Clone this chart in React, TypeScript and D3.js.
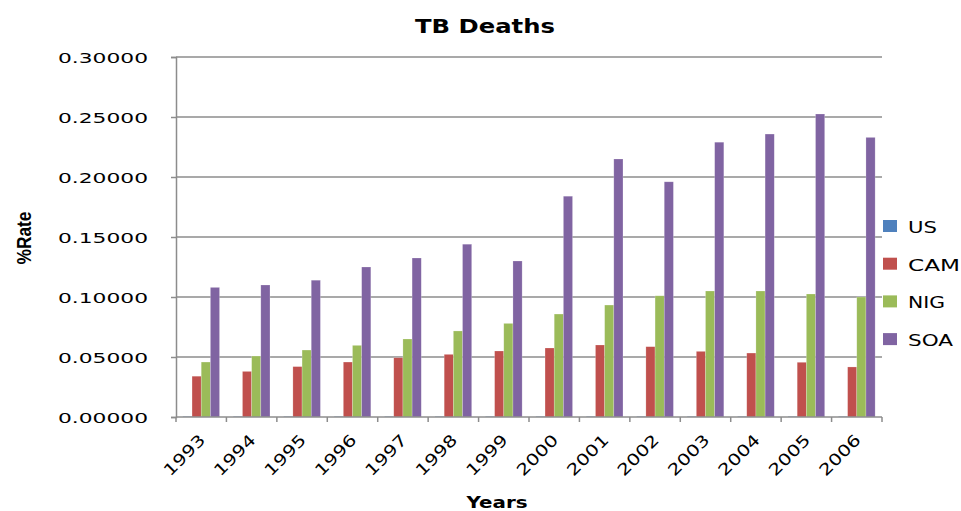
import React, { useEffect, useRef } from "react";
import * as d3 from "d3";

const years = ["1993", "1994", "1995", "1996", "1997", "1998", "1999", "2000", "2001", "2002", "2003", "2004", "2005", "2006"];
const seriesNames = ["US", "CAM", "NIG", "SOA"];
const colors = ["#4F81BD", "#C0504D", "#9BBB59", "#8064A2"];

const usValues = [0.0005, 0.0005, 0.0005, 0.0005, 0.0005, 0.0005, 0.0005, 0.0005, 0.0005, 0.0005, 0.0005, 0.0005, 0.0005, 0.0005];
const camValues = [0.034, 0.038, 0.042, 0.0458, 0.0494, 0.0522, 0.055, 0.0575, 0.060, 0.0586, 0.0547, 0.0533, 0.0456, 0.0417];
const nigValues = [0.0458, 0.0508, 0.0558, 0.0597, 0.065, 0.0717, 0.078, 0.0858, 0.0933, 0.101, 0.105, 0.105, 0.1025, 0.100];
const soaValues = [0.108, 0.110, 0.114, 0.125, 0.1325, 0.144, 0.130, 0.184, 0.215, 0.196, 0.229, 0.2358, 0.2525, 0.233];

const yTicks = [0, 0.05, 0.1, 0.15, 0.2, 0.25, 0.3];

const App = () => {
  const svgRef = useRef(null);

  useEffect(() => {
    const width = 961;
    const height = 511;
    const margin = { left: 176, right: 79, top: 57, bottom: 94 };
    const gridColor = "#8c8c8c";
    const font = "DejaVu Sans, Verdana, sans-serif";

    const svg = d3.select(svgRef.current);
    svg.selectAll("*").remove();

    const x = d3.scaleBand()
      .domain(years)
      .range([margin.left, width - margin.right])
      .paddingInner(0)
      .paddingOuter(0);

    // excel style: gap width 150% => 4 bars + 1.5 bar gap
    const inner = d3.scaleBand()
      .domain(seriesNames)
      .range([x.bandwidth() * 0.75 / 5.5, x.bandwidth() - x.bandwidth() * 0.75 / 5.5]);

    const y = d3.scaleLinear()
      .domain([0, 0.3])
      .range([height - margin.bottom, margin.top]);

    const table = years.map((yr, i) => ({
      year: yr,
      values: [usValues[i], camValues[i], nigValues[i], soaValues[i]]
    }));

    // gridlines
    svg.append("g")
      .selectAll("line")
      .data(yTicks.slice(1))
      .join("line")
        .attr("x1", margin.left)
        .attr("x2", width - margin.right)
        .attr("y1", d => y(d))
        .attr("y2", d => y(d))
        .attr("stroke", gridColor)
        .attr("stroke-width", 1.5);

    // bars
    const groups = svg.append("g")
      .selectAll("g")
      .data(table)
      .join("g")
        .attr("transform", d => `translate(${x(d.year)},0)`);

    groups.selectAll("rect")
      .data(d => d.values.map((v, j) => ({ name: seriesNames[j], v, j })))
      .join("rect")
        .attr("x", d => inner(d.name))
        .attr("width", inner.bandwidth())
        .attr("y", d => y(d.v))
        .attr("height", d => y(0) - y(d.v))
        .attr("fill", d => colors[d.j])
        .attr("stroke", "rgba(255,255,255,0.35)")
        .attr("stroke-width", 0.6);

    // y axis
    const yAxis = svg.append("g")
      .attr("transform", `translate(${margin.left},0)`)
      .call(d3.axisLeft(y).tickValues(yTicks).tickSize(5).tickFormat(() => ""));
    yAxis.select(".domain").attr("stroke", gridColor).attr("stroke-width", 1.5);
    yAxis.selectAll(".tick line").attr("stroke", gridColor).attr("stroke-width", 1.5);

    svg.append("g")
      .selectAll("text")
      .data(yTicks)
      .join("text")
        .attr("x", 148)
        .attr("y", d => y(d) + 6)
        .attr("text-anchor", "end")
        .attr("font-family", font)
        .attr("font-size", 14.5)
        .attr("textLength", 90)
        .attr("lengthAdjust", "spacingAndGlyphs")
        .attr("fill", "#000")
        .text(d => d3.format(".5f")(d));

    // x axis
    svg.append("line")
      .attr("x1", margin.left)
      .attr("x2", width - margin.right)
      .attr("y1", y(0))
      .attr("y2", y(0))
      .attr("stroke", gridColor)
      .attr("stroke-width", 1.5);

    const boundaries = years.map(d => x(d)).concat([x(years[years.length - 1]) + x.bandwidth()]);
    svg.append("g")
      .selectAll("line")
      .data(boundaries)
      .join("line")
        .attr("x1", d => d)
        .attr("x2", d => d)
        .attr("y1", y(0))
        .attr("y2", y(0) + 5)
        .attr("stroke", gridColor)
        .attr("stroke-width", 1.5);

    svg.append("g")
      .selectAll("text")
      .data(years)
      .join("text")
        .attr("transform", d => `translate(${x(d) + x.bandwidth() / 2 + 5},${y(0) + 24}) rotate(-45)`)
        .attr("text-anchor", "end")
        .attr("font-family", font)
        .attr("font-size", 16)
        .attr("textLength", 51)
        .attr("lengthAdjust", "spacingAndGlyphs")
        .text(d => d);

    // title + axis titles
    svg.append("text")
      .attr("x", 485)
      .attr("y", 33)
      .attr("text-anchor", "middle")
      .attr("font-family", font)
      .attr("font-weight", "bold")
      .attr("font-size", 20)
      .attr("textLength", 140)
      .attr("lengthAdjust", "spacingAndGlyphs")
      .text("TB Deaths");

    svg.append("text")
      .attr("x", 497)
      .attr("y", 508)
      .attr("text-anchor", "middle")
      .attr("font-family", font)
      .attr("font-weight", "bold")
      .attr("font-size", 15)
      .attr("textLength", 61)
      .attr("lengthAdjust", "spacingAndGlyphs")
      .text("Years");

    svg.append("text")
      .attr("transform", "translate(31,238) rotate(-90)")
      .attr("text-anchor", "middle")
      .attr("font-family", "Liberation Sans Narrow, Liberation Sans, Arial, sans-serif")
      .attr("font-weight", "bold")
      .attr("font-size", 20)
      .attr("textLength", 53)
      .attr("lengthAdjust", "spacingAndGlyphs")
      .text("%Rate");

    // legend
    const legendWidths = [29, 52, 37, 45];
    const legend = svg.append("g")
      .selectAll("g")
      .data(seriesNames)
      .join("g")
        .attr("transform", (d, i) => `translate(883,${226 + i * 37.7})`);

    legend.append("rect")
      .attr("x", 0)
      .attr("y", -6)
      .attr("width", 14)
      .attr("height", 12)
      .attr("fill", (d, i) => colors[i]);

    legend.append("text")
      .attr("x", 25)
      .attr("y", 7)
      .attr("font-family", font)
      .attr("font-size", 15)
      .attr("textLength", (d, i) => legendWidths[i])
      .attr("lengthAdjust", "spacingAndGlyphs")
      .text(d => d);
  }, []);

  return (
    <svg ref={svgRef} width={961} height={511} style={{ display: "block", position: "absolute", left: 0, top: 0, background: "#fff" }}></svg>
  );
};

export default App;
